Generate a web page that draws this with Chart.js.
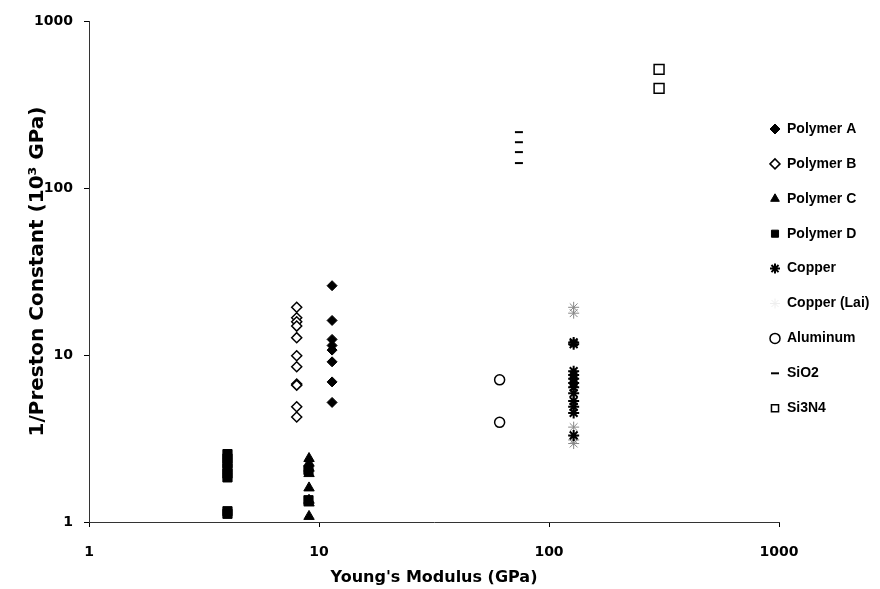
<!DOCTYPE html>
<html>
<head>
<meta charset="utf-8">
<script src="https://cdn.jsdelivr.net/npm/chart.js@4"></script>
<style>
  body { margin: 0; background: #fff; }
  #wrap { width: 880px; height: 589px; }
</style>
</head>
<body>
<div id="wrap"><canvas id="prestonChart" width="880" height="589"></canvas></div>
<script>
// Young's modulus (GPa) per material
const polymerA_E = 11.4;
const polymerB_E = 8.0;
const polymerC_E = 9.05;
const polymerD_E = [4.0, 4.0, 4.0, 4.0, 4.0, 4.0, 4.0, 4.0, 9.0, 9.0];
const copper_E = 128;
const aluminum_E = 61;
const sio2_E = 74;
const si3n4_E = 301;

// 1/Preston constant (10^3 GPa)
const polymerA = [26.0, 16.1, 12.4, 11.4, 10.7, 9.1, 6.9, 5.2];
const polymerB = [19.3, 16.7, 15.8, 14.9, 12.7, 9.9, 8.5, 6.7, 6.6, 4.9, 4.25];
const polymerC = [2.4, 2.25, 2.1, 1.95, 1.6, 1.35, 1.3, 1.08];
const polymerD = [2.55, 2.4, 2.25, 2.1, 1.95, 1.85, 1.16, 1.12, 2.05, 1.35];
const copper = [11.6, 11.9, 8.0, 7.6, 7.2, 6.8, 6.4, 5.9, 5.3, 4.9, 4.5, 3.3];
const copperLai = [19.3, 17.8, 3.7, 3.1, 2.95];
const aluminum = [7.1, 3.95];
const sio2 = [216, 188, 164, 141];
const si3n4 = [513, 395];

const decadeTicks = [1, 10, 100, 1000];

// helpers
const pts = (xs, ys) => ys.map((y, i) => ({ x: Array.isArray(xs) ? xs[i] : xs, y: y }));

const datasets = [
  { label: 'Polymer A', data: pts(polymerA_E, polymerA), pointStyle: 'rectRot', pointRadius: 5,
    backgroundColor: '#000', borderColor: '#000', borderWidth: 1 },
  { label: 'Polymer B', data: pts(polymerB_E, polymerB), pointStyle: 'rectRot', pointRadius: 5,
    backgroundColor: '#fff', borderColor: '#000', borderWidth: 1.5 },
  { label: 'Polymer C', data: pts(polymerC_E, polymerC), pointStyle: 'triangle', pointRadius: 6,
    backgroundColor: '#000', borderColor: '#000', borderWidth: 1 },
  { label: 'Polymer D', data: pts(polymerD_E, polymerD), pointStyle: 'rect', pointRadius: 6.5,
    backgroundColor: '#000', borderColor: '#000', borderWidth: 1 },
  { label: 'Copper', data: pts(copper_E, copper), pointStyle: 'star', pointRadius: 5.5,
    backgroundColor: '#000', borderColor: '#000', borderWidth: 2 },
  { label: 'Copper (Lai)', data: pts(copper_E, copperLai), pointStyle: 'star', pointRadius: 5.5,
    backgroundColor: '#888', borderColor: '#888', borderWidth: 1, legendColor: '#eeeeee' },
  { label: 'Aluminum', data: pts(aluminum_E, aluminum), pointStyle: 'circle', pointRadius: 5,
    backgroundColor: '#fff', borderColor: '#000', borderWidth: 1.5 },
  { label: 'SiO2', data: pts(sio2_E, sio2), pointStyle: 'line', pointRadius: 4,
    backgroundColor: '#000', borderColor: '#000', borderWidth: 2 },
  { label: 'Si3N4', data: pts(si3n4_E, si3n4), pointStyle: 'rect', pointRadius: 7,
    backgroundColor: '#fff', borderColor: '#000', borderWidth: 1.5 }
];

// legend drawn by hand so the rows sit where the original has them
const sideLegend = {
  id: 'sideLegend',
  afterDraw(chart) {
    const ctx = chart.ctx;
    const drawPoint = Chart.helpers && Chart.helpers.drawPoint;
    ctx.save();
    chart.data.datasets.forEach((ds, i) => {
      const y = 129 + i * 34.9;
      const col = ds.legendColor || ds.borderColor;
      if (drawPoint) {
        ctx.fillStyle = ds.legendColor || ds.backgroundColor;
        ctx.strokeStyle = col;
        ctx.lineWidth = ds.borderWidth;
        drawPoint(ctx, { pointStyle: ds.pointStyle, radius: Math.min(ds.pointRadius, 5), rotation: 0, borderWidth: ds.borderWidth }, 775, y);
      }
      ctx.fillStyle = '#000';
      ctx.font = 'bold 14px "Liberation Sans", Arial, sans-serif';
      ctx.textAlign = 'left';
      ctx.textBaseline = 'middle';
      ctx.fillText(ds.label, 787, y);
    });
    ctx.restore();
  }
};

const logAxis = (pad, extra) => Object.assign({
  type: 'logarithmic',
  min: 1,
  max: 1000,
  afterBuildTicks: (scale) => { scale.ticks = decadeTicks.map(v => ({ value: v })); },
  ticks: {
    color: '#000',
    font: { family: 'DejaVu Sans', size: 14, weight: 'bold' },
    callback: (v) => String(v),
    autoSkip: false,
    maxRotation: 0,
    padding: pad
  },
  grid: { display: true, drawOnChartArea: false, drawTicks: true, tickLength: 5, color: '#000' },
  border: { display: true, color: '#333', width: 1 }
}, extra);

new Chart(document.getElementById('prestonChart'), {
  type: 'scatter',
  data: { datasets: datasets },
  options: {
    responsive: false,
    animation: false,
    devicePixelRatio: 1,
    layout: { padding: { top: 21, right: 101, left: 0, bottom: 0 } },
    plugins: { legend: { display: false }, tooltip: { enabled: false } },
    scales: {
      x: logAxis(17, {
        position: 'bottom',
        title: { display: true, text: "Young's Modulus (GPa)", color: '#000',
          font: { family: 'DejaVu Sans', size: 16, weight: 'bold' }, padding: { top: 0, bottom: 1.5 } },
        afterFit: (scale) => { scale.height = 67; }
      }),
      y: logAxis(11, {
        position: 'left',
        title: { display: true, text: '1/Preston Constant (10³ GPa)', color: '#000',
          font: { family: 'DejaVu Sans', size: 20, weight: 'bold' }, padding: { top: 26, bottom: 0 } },
        afterFit: (scale) => { scale.width = 89; }
      })
    }
  },
  plugins: [sideLegend]
});
</script>
</body>
</html>
